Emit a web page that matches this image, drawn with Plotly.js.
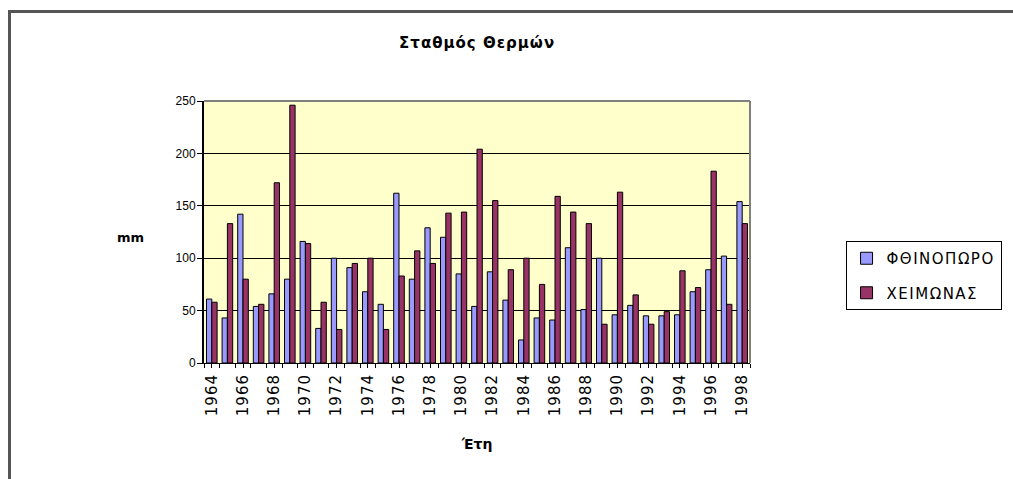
<!DOCTYPE html>
<html>
<head>
<meta charset="utf-8">
<script src="https://cdn.plot.ly/plotly-3.0.1.min.js"></script>
<style>
  html, body { margin: 0; padding: 0; background: #fff; }
  #wrap { position: relative; width: 1013px; height: 479px; overflow: hidden; }
  #chart { width: 1013px; height: 479px; }
  #frame { position: absolute; left: 8px; top: 10px; width: 1100px; height: 600px;
           border-left: 3px solid #555; border-top: 3px solid #555; pointer-events: none; }
  .xtick text { letter-spacing: 1px; }
  .gtitle { letter-spacing: 1px; }
  .legendtext { letter-spacing: 1.5px; }
</style>
</head>
<body>
<div id="wrap">
  <div id="chart"></div>
  <div id="frame"></div>
</div>
<script>
const years = [1964,1965,1966,1967,1968,1969,1970,1971,1972,1973,1974,1975,1976,1977,1978,1979,1980,1981,1982,1983,1984,1985,1986,1987,1988,1989,1990,1991,1992,1993,1994,1995,1996,1997,1998];
const autumn = [61,43,142,54,66,80,116,33,100,91,68,56,162,80,129,120,85,54,87,60,22,43,41,110,51,100,46,55,45,45,46,68,89,102,154];
const winter = [58,133,80,56,172,246,114,58,32,95,100,32,83,107,95,143,144,204,155,89,100,75,159,144,133,37,163,65,37,49,88,72,183,56,133];
const tickYears = [1964,1966,1968,1970,1972,1974,1976,1978,1980,1982,1984,1986,1988,1990,1992,1994,1996,1998];
const seriesNames = ['ΦΘΙΝΟΠΩΡΟ', 'ΧΕΙΜΩΝΑΣ'];

const traces = [
  { type: 'bar', x: years, y: autumn, name: seriesNames[0], legendgroup: 'a',
    marker: { color: '#9999FF', line: { color: '#000', width: 1 } } },
  { type: 'bar', x: years, y: winter, name: seriesNames[1], legendgroup: 'b',
    marker: { color: '#993366', line: { color: '#000', width: 1 } } }
];

const layout = {
  width: 1013, height: 479,
  margin: { l: 204, r: 263, t: 101, b: 116 },
  paper_bgcolor: '#ffffff',
  plot_bgcolor: '#FFFFCC',
  barmode: 'group', bargap: 0.32, bargroupgap: 0,
  showlegend: true,
  title: { text: '<b>Σταθμός Θερμών</b>', font: { family: 'DejaVu Sans, sans-serif', size: 15, color: '#000' },
           x: 0.471, xanchor: 'center', y: 1 - 43/479, yanchor: 'middle' },
  xaxis: {
    range: [1963.5, 1998.5], tickmode: 'array', tickvals: tickYears, ticktext: tickYears.map(String),
    tickangle: -90, tickfont: { family: 'DejaVu Sans, sans-serif', size: 15, color: '#000' },
    ticks: 'outside', ticklen: 4, tickcolor: '#000',
    minor: { tickmode: 'linear', tick0: 1963.5, dtick: 1, ticks: 'outside', ticklen: 4, tickcolor: '#000', showgrid: false },
    showline: true, linecolor: '#000', linewidth: 1, showgrid: false, zeroline: false,
    title: { text: '<b>Έτη</b>', font: { family: 'DejaVu Sans, sans-serif', size: 14, color: '#000' }, standoff: 24 }
  },
  yaxis: {
    range: [0, 250], dtick: 50, tick0: 0,
    tickfont: { family: 'Liberation Sans, Arial, sans-serif', size: 12, color: '#000' },
    ticks: 'outside', ticklen: 5, tickcolor: '#000', ticklabelstandoff: -1,
    showline: true, linecolor: '#000', linewidth: 2,
    showgrid: true, gridcolor: '#000', gridwidth: 1, zeroline: false
  },
  legend: {
    x: 1.175, xanchor: 'left', y: 0.4656, yanchor: 'top',
    bgcolor: '#fff', bordercolor: '#000', borderwidth: 1,
    font: { family: 'DejaVu Sans, sans-serif', size: 15, color: '#000' },
    traceorder: 'grouped', tracegroupgap: 12, itemwidth: 30
  },
  shapes: [
    { type: 'line', xref: 'paper', yref: 'paper', x0: 0, x1: 1, y0: 1, y1: 1, line: { color: '#808080', width: 2 } },
    { type: 'line', xref: 'paper', yref: 'paper', x0: 1, x1: 1, y0: 0, y1: 1, line: { color: '#808080', width: 2 } }
  ],
  annotations: [
    { text: '<b>mm</b>', xref: 'paper', yref: 'paper', x: (130-204)/546, y: (363-237)/262,
      xanchor: 'center', yanchor: 'middle', showarrow: false,
      font: { family: 'DejaVu Sans, sans-serif', size: 13, color: '#000' } }
  ]
};

Plotly.newPlot('chart', traces, layout, { displayModeBar: false, staticPlot: true });
</script>
</body>
</html>
